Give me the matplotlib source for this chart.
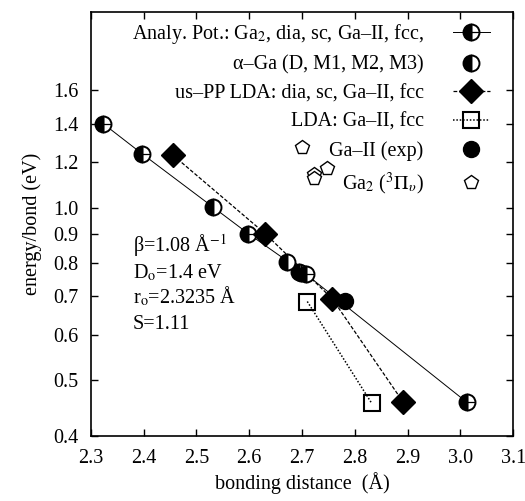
import numpy as np
import matplotlib
matplotlib.use('Agg')
import matplotlib.pyplot as plt
from matplotlib.lines import Line2D
from matplotlib.ticker import NullLocator, FixedLocator, FixedFormatter

# ---------------- data ----------------
analy_x = [2.3235, 2.397, 2.598, 2.707, 3.012]
analy_y = [1.40, 1.241, 0.901, 0.766, 0.458]

alpha_x = [2.532, 2.671, 2.694, 2.699]
alpha_y = [1.002, 0.805, 0.773, 0.770]

uspp_x = [2.456, 2.630, 2.757, 2.891]
uspp_y = [1.233, 0.901, 0.694, 0.459]

lda_x = [2.710, 2.832]
lda_y = [0.686, 0.456]

exp_x = [2.782]
exp_y = [0.688]

ga2_x = [2.700, 2.7475, 2.722, 2.722]
ga2_y = [1.275, 1.170, 1.143, 1.125]

xticks = [2.3, 2.4, 2.5, 2.6, 2.7, 2.8, 2.9, 3.0, 3.1]
yticks = [0.4, 0.5, 0.6, 0.7, 0.8, 0.9, 1.0, 1.2, 1.4, 1.6]

labels = [
    r"Analy. Pot.: Ga$_2$, dia, sc, Ga–II, fcc,",
    "α–Ga (D, M1, M2, M3)",
    "us–PP LDA: dia, sc, Ga–II, fcc",
    "LDA: Ga–II, fcc",
    "Ga–II (exp)",
    r"Ga$_2$ ($^3\Pi_\upsilon$)",
]

# ---------------- style ----------------
plt.rcParams['font.family'] = ['Liberation Serif', 'DejaVu Serif']
plt.rcParams['mathtext.fontset'] = 'stix'
FS = 14.5

fig = plt.figure(figsize=(5.25, 5.01), dpi=100)
ax = fig.add_axes([0.1728, 0.1297, 0.8049, 0.8463])

quart_kw = dict(ls='none', marker='o', ms=11.5, fillstyle='left', mfc='k',
                mfcalt='w', mec='k', mew=1.4)
plus_kw = dict(ls='none', marker='+', ms=11.5, mec='k', mew=0.9)
analy_line_kw = dict(color='k', lw=0.7)
uspp_line_kw = dict(color='k', lw=0.9, ls=(0, (3, 1.5)))
lda_line_kw = dict(color='k', lw=1.1, ls=(0, (1, 1.2)))

# lines
ax.plot(analy_x, analy_y, zorder=2, **analy_line_kw)
ax.plot(uspp_x, uspp_y, zorder=2, **uspp_line_kw)
ax.plot(lda_x, lda_y, zorder=2, **lda_line_kw)

# markers
ax.plot(ga2_x, ga2_y, ls='none', marker='p', ms=10, mfc='w', mec='k', mew=1.0, zorder=3)
ax.plot(alpha_x, alpha_y, ls='none', marker='o', ms=11.5, fillstyle='left', mfc='k',
        mfcalt='w', mec='k', mew=1.4, zorder=4)
ax.plot(analy_x, analy_y, zorder=5, **quart_kw)
ax.plot(analy_x, analy_y, zorder=6, **plus_kw)
ax.plot(lda_x, lda_y, ls='none', marker='s', ms=12, mfc='none', mec='k', mew=1.5, zorder=4)
ax.plot(uspp_x, uspp_y, ls='none', marker='D', ms=12, mfc='k', mec='k', zorder=5)
ax.plot(exp_x, exp_y, ls='none', marker='o', ms=11.5, mfc='k', mec='k', zorder=4)

# axes
ax.set_yscale('log')
ax.set_xlim(2.3, 3.1)
ax.set_ylim(0.4, 2.19)
ax.xaxis.set_major_locator(FixedLocator(xticks))
ax.xaxis.set_major_formatter(FixedFormatter([f"{v:.1f}" for v in xticks]))
ax.yaxis.set_major_locator(FixedLocator(yticks))
ax.yaxis.set_major_formatter(FixedFormatter([f"{v:.1f}" for v in yticks]))
ax.yaxis.set_minor_locator(NullLocator())
ax.xaxis.set_minor_locator(NullLocator())
ax.tick_params(direction='in', top=True, right=True, length=5, width=1.0,
               labelsize=FS)
ax.tick_params(axis='x', pad=9)
ax.tick_params(axis='y', pad=9)
for s in ax.spines.values():
    s.set_linewidth(1.2)

ax.set_xlabel("bonding distance  (Å)", fontsize=FS, labelpad=3)
ax.set_ylabel("energy/bond (eV)", fontsize=FS, labelpad=8)

# annotation
ann = ["β=1.08 Å$^{-1}$", r"D$_{\rm o}$=1.4 eV", r"r$_{\rm o}$=2.3235 Å", "S=1.11"]
ann_y = [0.450, 0.384, 0.328, 0.262]
for t, yy in zip(ann, ann_y):
    ax.text(0.100, yy, t, transform=ax.transAxes, fontsize=FS,
            va='center', ha='left')

# legend
h_analy = (Line2D([], [], **analy_line_kw), Line2D([], [], **quart_kw), Line2D([], [], **plus_kw))
h_alpha = Line2D([], [], ls='none', marker='o', ms=11.5, fillstyle='left', mfc='k',
                 mfcalt='w', mec='k', mew=1.4)
h_uspp = Line2D([], [], marker='D', ms=12, mfc='k', mec='k', **uspp_line_kw)
h_lda = Line2D([], [], marker='s', ms=12, mfc='none', mec='k', mew=1.5, **lda_line_kw)
h_exp = Line2D([], [], ls='none', marker='o', ms=11.5, mfc='k', mec='k')
h_ga2 = Line2D([], [], ls='none', marker='p', ms=10, mfc='w', mec='k', mew=1.0)

ax.legend([h_analy, h_alpha, h_uspp, h_lda, h_exp, h_ga2], labels,
          loc='upper right', bbox_to_anchor=(0.964, 0.995), markerfirst=False,
          frameon=False, fontsize=FS, handlelength=1.85, handletextpad=1.45,
          labelspacing=0.47, borderaxespad=0.0)

fig.savefig('out.png', dpi=100)
